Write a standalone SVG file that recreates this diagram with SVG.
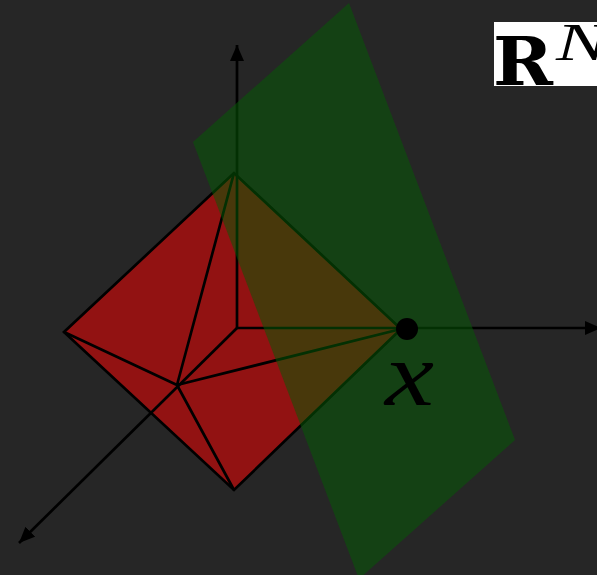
<svg xmlns="http://www.w3.org/2000/svg" width="597" height="575" viewBox="0 0 597 575">
<defs>
<style>
.l{stroke:#000;stroke-width:2.7;fill:none}
.t{font-family:"DejaVu Serif",serif;fill:#000}
.i{font-family:"Liberation Serif",serif;font-style:italic;fill:#000}
</style>
<marker id="a" markerUnits="userSpaceOnUse" markerWidth="20" markerHeight="16" refX="16" refY="7" orient="auto"><path d="M0 0L16 7L0 14Z" fill="#000"/></marker>
</defs>
<rect width="597" height="575" fill="#262626"/>
<g id="polytope"><path d="M64 332L234 173L401 329L234 490Z" fill="#921212"/></g>
<g id="connectors">
<path class="l" d="M64 332L234 173L401 329L234 490Z"/>
<path class="l" d="M177 385L64 332M177 385L234 173M177 385L401 329M177 385L234 490"/>
<path class="l" d="M237 328V45" marker-end="url(#a)"/>
<path class="l" d="M237 328H601" marker-end="url(#a)"/>
<path class="l" d="M237 328L19 543" marker-end="url(#a)"/>
</g>
<g id="plane"><path d="M349 3L193 142L359 579L515 440Z" fill="#065a06" fill-opacity=".53"/></g>
<g id="point"><circle cx="407" cy="329" r="11" fill="#000"/></g>
<g id="label-x"><text class="i" x="385" y="405" font-size="90" textLength="49" lengthAdjust="spacingAndGlyphs">x</text></g>
<g id="label-rn"><rect x="494" y="22" width="103" height="64" fill="#fff"/>
<text class="t" x="493" y="85" font-size="67" font-weight="bold" textLength="60" lengthAdjust="spacingAndGlyphs">R</text>
<text class="i" x="556" y="60" font-size="53" textLength="52" lengthAdjust="spacingAndGlyphs">N</text></g>
</svg>
